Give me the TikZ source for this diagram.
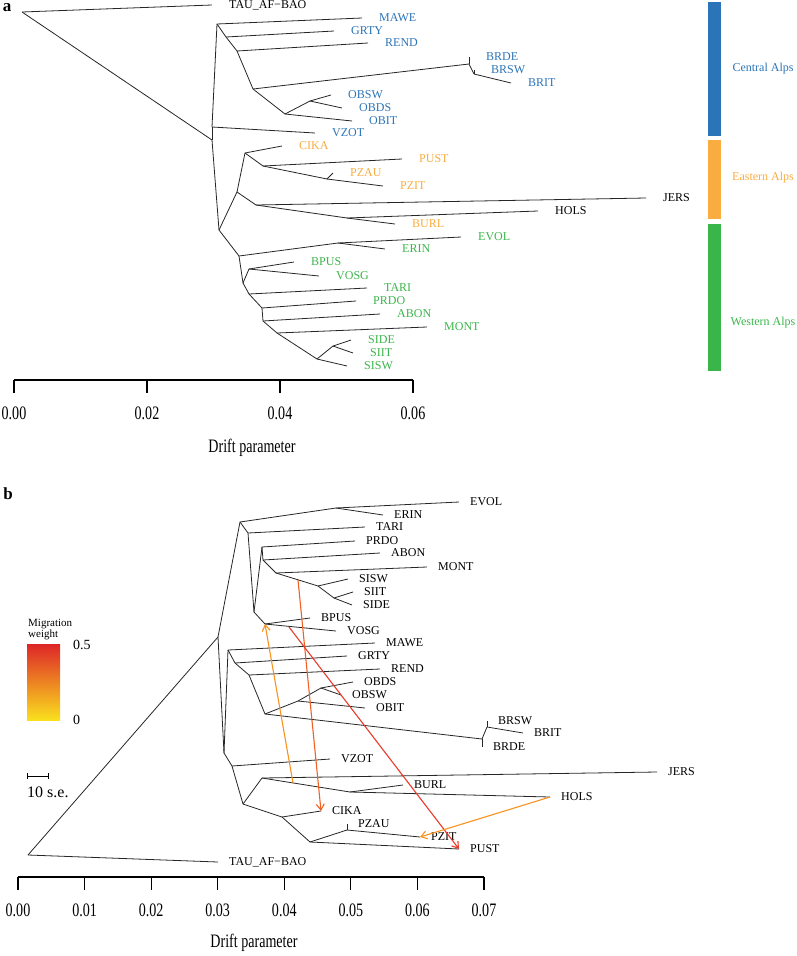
\documentclass[tikz,border=0pt]{standalone}
\usepackage{fontspec}
\setmainfont{Liberation Serif}
\usepackage{graphicx}
\usetikzlibrary{arrows.meta, positioning}

\definecolor{alpsblue}{RGB}{44,116,184}
\definecolor{alpsorange}{RGB}{249,172,64}
\definecolor{alpsgreen}{RGB}{58,181,74}
\definecolor{migorange}{RGB}{247,146,30}
\definecolor{migred}{RGB}{240,96,34}
\definecolor{migdeep}{RGB}{232,58,40}
\definecolor{legtop}{RGB}{222,38,40}
\definecolor{legmid}{RGB}{240,120,38}
\definecolor{legbot}{RGB}{250,224,30}
\newcommand{\narrowtxt}[1]{\scalebox{0.74}[1]{#1}}

\begin{document}
\begin{tikzpicture}[
    x=1pt,
    y=1pt,
    branch/.style={draw, line width=0.8pt, black!85},
    every edge/.style={branch},
    tip/.style={font=\fontsize{12}{12}\selectfont, inner sep=0pt},
    cen/.style={tip, text=alpsblue},
    eas/.style={tip, text=alpsorange},
    wes/.style={tip, text=alpsgreen},
    migr/.style={line width=1.1pt, -{Straight Barb[length=6pt, width=8pt]}},
    axisline/.style={line width=1.1pt},
    ticklab/.style={font=\fontsize{19}{19}\selectfont, inner sep=0pt},
    grouplab/.style={font=\fontsize{12}{12}\selectfont, inner sep=0pt},
    panel/.style={font=\fontsize{17}{17}\selectfont\bfseries, inner sep=0pt},
]
\useasboundingbox (0,0) rectangle (797,-956);

% ---------- panel a ----------
\node[panel] (pa) at (7,-8) {a};

\coordinate (a-root) at (22,-12);
\coordinate (a-tau)  at (212,-5);
\coordinate (a-n0)   at (212,-140);
\coordinate (a-nv)   at (212,-127);
\coordinate (a-c0)   at (217,-24);
\coordinate (a-s0)   at (219,-230);
\coordinate (a-mawe) at (362,-18);
\coordinate (a-c1)   at (226,-37);
\coordinate (a-grty) at (334,-31);
\coordinate (a-c2)   at (237,-51);
\coordinate (a-rend) at (368,-43);
\coordinate (a-c3)   at (253,-89);
\coordinate (a-brn)  at (469,-64);
\coordinate (a-brde) at (469,-57);
\coordinate (a-brs)  at (474,-74);
\coordinate (a-brsw) at (474,-70);
\coordinate (a-brit) at (511,-83);
\coordinate (a-c4)   at (285,-114);
\coordinate (a-obs)  at (310,-101);
\coordinate (a-obsw) at (331,-95);
\coordinate (a-obds) at (342,-108);
\coordinate (a-obit) at (352,-121);
\coordinate (a-vzot) at (315,-133);
\coordinate (a-e1)   at (237,-192);
\coordinate (a-e2)   at (245,-153);
\coordinate (a-cika) at (282,-146);
\coordinate (a-e3)   at (263,-166);
\coordinate (a-pust) at (402,-159);
\coordinate (a-pzn)  at (327,-179);
\coordinate (a-pzau) at (333,-173);
\coordinate (a-pzit) at (383,-186);
\coordinate (a-e4)   at (256,-205);
\coordinate (a-jers) at (646,-198);
\coordinate (a-e5)   at (347,-218);
\coordinate (a-burl) at (395,-224);
\coordinate (a-hols) at (538,-211);
\coordinate (a-w1)   at (239,-256);
\coordinate (a-w2)   at (338,-243);
\coordinate (a-evol) at (461,-237);
\coordinate (a-erin) at (385,-249);
\coordinate (a-w3)   at (243,-283);
\coordinate (a-w4)   at (249,-269);
\coordinate (a-bpus) at (294,-262);
\coordinate (a-vosg) at (319,-276);
\coordinate (a-w5)   at (249,-294);
\coordinate (a-tari) at (367,-288);
\coordinate (a-w6)   at (262,-308);
\coordinate (a-prdo) at (356,-301);
\coordinate (a-w7)   at (263,-321);
\coordinate (a-abon) at (380,-314);
\coordinate (a-w8)   at (277,-333);
\coordinate (a-mont) at (427,-327);
\coordinate (a-w9)   at (317,-359);
\coordinate (a-sn)   at (333,-346);
\coordinate (a-side) at (351,-340);
\coordinate (a-siit) at (353,-353);
\coordinate (a-sisw) at (347,-366);

\path
    (a-root) edge (a-tau)
    (a-root) edge (a-n0)
    (a-n0)   edge (a-nv)
    (a-nv)   edge (a-c0)
    (a-n0)   edge (a-s0)
    (a-nv)   edge (a-vzot)
    (a-c0)   edge (a-mawe)
    (a-c0)   edge (a-c1)
    (a-c1)   edge (a-grty)
    (a-c1)   edge (a-c2)
    (a-c2)   edge (a-rend)
    (a-c2)   edge (a-c3)
    (a-c3)   edge (a-brn)
    (a-brn)  edge (a-brde)
    (a-brn)  edge (a-brs)
    (a-brs)  edge (a-brsw)
    (a-brs)  edge (a-brit)
    (a-c3)   edge (a-c4)
    (a-c4)   edge (a-obs)
    (a-obs)  edge (a-obsw)
    (a-obs)  edge (a-obds)
    (a-c4)   edge (a-obit)
    (a-s0)   edge (a-e1)
    (a-e1)   edge (a-e2)
    (a-e2)   edge (a-cika)
    (a-e2)   edge (a-e3)
    (a-e3)   edge (a-pust)
    (a-e3)   edge (a-pzn)
    (a-pzn)  edge (a-pzau)
    (a-pzn)  edge (a-pzit)
    (a-e1)   edge (a-e4)
    (a-e4)   edge (a-jers)
    (a-e4)   edge (a-e5)
    (a-e5)   edge (a-burl)
    (a-e5)   edge (a-hols)
    (a-s0)   edge (a-w1)
    (a-w1)   edge (a-w2)
    (a-w2)   edge (a-evol)
    (a-w2)   edge (a-erin)
    (a-w1)   edge (a-w3)
    (a-w3)   edge (a-w4)
    (a-w4)   edge (a-bpus)
    (a-w4)   edge (a-vosg)
    (a-w3)   edge (a-w5)
    (a-w5)   edge (a-tari)
    (a-w5)   edge (a-w6)
    (a-w6)   edge (a-prdo)
    (a-w6)   edge (a-w7)
    (a-w7)   edge (a-abon)
    (a-w7)   edge (a-w8)
    (a-w8)   edge (a-mont)
    (a-w8)   edge (a-w9)
    (a-w9)   edge (a-sn)
    (a-sn)   edge (a-side)
    (a-sn)   edge (a-siit)
    (a-w9)   edge (a-sisw)
;

\begin{scope}[node distance=17pt]
    \node[tip, right=of a-tau]  (la-tau)  {TAU\_AF−BAO};
    \node[cen, right=of a-mawe] (la-mawe) {MAWE};
    \node[cen, right=of a-grty] (la-grty) {GRTY};
    \node[cen, right=of a-rend] (la-rend) {REND};
    \node[cen, right=of a-brde] (la-brde) {BRDE};
    \node[cen, right=of a-brsw] (la-brsw) {BRSW};
    \node[cen, right=of a-brit] (la-brit) {BRIT};
    \node[cen, right=of a-obsw] (la-obsw) {OBSW};
    \node[cen, right=of a-obds] (la-obds) {OBDS};
    \node[cen, right=of a-obit] (la-obit) {OBIT};
    \node[cen, right=of a-vzot] (la-vzot) {VZOT};
    \node[eas, right=of a-cika] (la-cika) {CIKA};
    \node[eas, right=of a-pust] (la-pust) {PUST};
    \node[eas, right=of a-pzau] (la-pzau) {PZAU};
    \node[eas, right=of a-pzit] (la-pzit) {PZIT};
    \node[tip, right=of a-jers] (la-jers) {JERS};
    \node[tip, right=of a-hols] (la-hols) {HOLS};
    \node[eas, right=of a-burl] (la-burl) {BURL};
    \node[wes, right=of a-evol] (la-evol) {EVOL};
    \node[wes, right=of a-erin] (la-erin) {ERIN};
    \node[wes, right=of a-bpus] (la-bpus) {BPUS};
    \node[wes, right=of a-vosg] (la-vosg) {VOSG};
    \node[wes, right=of a-tari] (la-tari) {TARI};
    \node[wes, right=of a-prdo] (la-prdo) {PRDO};
    \node[wes, right=of a-abon] (la-abon) {ABON};
    \node[wes, right=of a-mont] (la-mont) {MONT};
    \node[wes, right=of a-side] (la-side) {SIDE};
    \node[wes, right=of a-siit] (la-siit) {SIIT};
    \node[wes, right=of a-sisw] (la-sisw) {SISW};
\end{scope}

% group bars
\fill[alpsblue]   (708,-2)   rectangle (721,-136);
\fill[alpsorange] (708,-140) rectangle (721,-219);
\fill[alpsgreen]  (708,-224) rectangle (721,-371);
\node[grouplab, text=alpsblue]   (g-central) at (763,-69)  {Central Alps};
\node[grouplab, text=alpsorange] (g-eastern) at (763,-178) {Eastern Alps};
\node[grouplab, text=alpsgreen]  (g-western) at (763,-323) {Western Alps};

% axis a
\draw[axisline] (14,-380) -- (413,-380);
\foreach \x/\v in {14/0.00, 147/0.02, 280/0.04, 413/0.06} {
    \draw[axisline] (\x,-380) -- (\x,-393);
    \node[ticklab] (ta-\x) at (\x,-413) {\narrowtxt{\v}};
}
\node[ticklab] (xa-title) at (252,-448) {\narrowtxt{Drift parameter}};

% ---------- panel b ----------
\node[panel] (pb) at (8,-494) {b};

\coordinate (b-root) at (28,-855);
\coordinate (b-tau)  at (218,-862);
\coordinate (b-n0)   at (218,-637);
\coordinate (b-wt)   at (240,-522);
\coordinate (b-w2)   at (336,-508);
\coordinate (b-evol) at (459,-502);
\coordinate (b-erin) at (383,-515);
\coordinate (b-w1)   at (248,-533);
\coordinate (b-tari) at (365,-527);
\coordinate (b-w3)   at (254,-612);
\coordinate (b-w4)   at (265,-624);
\coordinate (b-bpus) at (310,-618);
\coordinate (b-vosg) at (336,-631);
\coordinate (b-w5)   at (262,-547);
\coordinate (b-prdo) at (355,-541);
\coordinate (b-w6)   at (263,-560);
\coordinate (b-abon) at (380,-553);
\coordinate (b-w7)   at (276,-573);
\coordinate (b-mont) at (427,-567);
\coordinate (b-w8)   at (318,-586);
\coordinate (b-sisw) at (348,-579);
\coordinate (b-w9)   at (334,-598);
\coordinate (b-siit) at (353,-592);
\coordinate (b-side) at (352,-605);
\coordinate (b-s1)   at (224,-753);
\coordinate (b-c0)   at (228,-650);
\coordinate (b-s2)   at (232,-766);
\coordinate (b-vzot) at (330,-759);
\coordinate (b-s3)   at (243,-804);
\coordinate (b-mawe) at (375,-643);
\coordinate (b-c1)   at (235,-663);
\coordinate (b-grty) at (347,-656);
\coordinate (b-c2)   at (249,-675);
\coordinate (b-rend) at (380,-669);
\coordinate (b-c3)   at (265,-714);
\coordinate (b-oba)  at (298,-701);
\coordinate (b-obb)  at (321,-688);
\coordinate (b-obds) at (353,-682);
\coordinate (b-obsw) at (341,-695);
\coordinate (b-obit) at (365,-708);
\coordinate (b-brn)  at (482,-739);
\coordinate (b-brde) at (482,-747);
\coordinate (b-brs)  at (487,-727);
\coordinate (b-brsw) at (487,-721);
\coordinate (b-brit) at (523,-733);
\coordinate (b-e1)   at (262,-778);
\coordinate (b-jers) at (657,-772);
\coordinate (b-e5)   at (350,-792);
\coordinate (b-burl) at (403,-785);
\coordinate (b-hols) at (550,-797);
\coordinate (b-e3)   at (282,-817);
\coordinate (b-cika) at (321,-811);
\coordinate (b-e4)   at (310,-842);
\coordinate (b-pzn)  at (347,-830);
\coordinate (b-pzau) at (347,-824);
\coordinate (b-pzit) at (420,-837);
\coordinate (b-pust) at (459,-849);

\path
    (b-root) edge (b-tau)
    (b-root) edge (b-n0)
    (b-n0)   edge (b-wt)
    (b-wt)   edge (b-w2)
    (b-w2)   edge (b-evol)
    (b-w2)   edge (b-erin)
    (b-wt)   edge (b-w1)
    (b-w1)   edge (b-tari)
    (b-w1)   edge (b-w3)
    (b-w3)   edge (b-w4)
    (b-w4)   edge (b-bpus)
    (b-w4)   edge (b-vosg)
    (b-w3)   edge (b-w5)
    (b-w5)   edge (b-prdo)
    (b-w5)   edge (b-w6)
    (b-w6)   edge (b-abon)
    (b-w6)   edge (b-w7)
    (b-w7)   edge (b-mont)
    (b-w7)   edge (b-w8)
    (b-w8)   edge (b-sisw)
    (b-w8)   edge (b-w9)
    (b-w9)   edge (b-siit)
    (b-w9)   edge (b-side)
    (b-n0)   edge (b-s1)
    (b-s1)   edge (b-c0)
    (b-s1)   edge (b-s2)
    (b-s2)   edge (b-vzot)
    (b-s2)   edge (b-s3)
    (b-c0)   edge (b-mawe)
    (b-c0)   edge (b-c1)
    (b-c1)   edge (b-grty)
    (b-c1)   edge (b-c2)
    (b-c2)   edge (b-rend)
    (b-c2)   edge (b-c3)
    (b-c3)   edge (b-oba)
    (b-oba)  edge (b-obb)
    (b-obb)  edge (b-obds)
    (b-obb)  edge (b-obsw)
    (b-oba)  edge (b-obit)
    (b-c3)   edge (b-brn)
    (b-brn)  edge (b-brde)
    (b-brn)  edge (b-brs)
    (b-brs)  edge (b-brsw)
    (b-brs)  edge (b-brit)
    (b-s3)   edge (b-e1)
    (b-e1)   edge (b-jers)
    (b-e1)   edge (b-e5)
    (b-e5)   edge (b-burl)
    (b-e5)   edge (b-hols)
    (b-s3)   edge (b-e3)
    (b-e3)   edge (b-cika)
    (b-e3)   edge (b-e4)
    (b-e4)   edge (b-pzn)
    (b-pzn)  edge (b-pzau)
    (b-pzn)  edge (b-pzit)
    (b-e4)   edge (b-pust)
;

\begin{scope}[node distance=11pt]
    \node[tip, right=of b-tau]  (lb-tau)  {TAU\_AF−BAO};
    \node[tip, right=of b-evol] (lb-evol) {EVOL};
    \node[tip, right=of b-erin] (lb-erin) {ERIN};
    \node[tip, right=of b-tari] (lb-tari) {TARI};
    \node[tip, right=of b-prdo] (lb-prdo) {PRDO};
    \node[tip, right=of b-abon] (lb-abon) {ABON};
    \node[tip, right=of b-mont] (lb-mont) {MONT};
    \node[tip, right=of b-sisw] (lb-sisw) {SISW};
    \node[tip, right=of b-siit] (lb-siit) {SIIT};
    \node[tip, right=of b-side] (lb-side) {SIDE};
    \node[tip, right=of b-bpus] (lb-bpus) {BPUS};
    \node[tip, right=of b-vosg] (lb-vosg) {VOSG};
    \node[tip, right=of b-mawe] (lb-mawe) {MAWE};
    \node[tip, right=of b-grty] (lb-grty) {GRTY};
    \node[tip, right=of b-rend] (lb-rend) {REND};
    \node[tip, right=of b-obds] (lb-obds) {OBDS};
    \node[tip, right=of b-obsw] (lb-obsw) {OBSW};
    \node[tip, right=of b-obit] (lb-obit) {OBIT};
    \node[tip, right=of b-brsw] (lb-brsw) {BRSW};
    \node[tip, right=of b-brit] (lb-brit) {BRIT};
    \node[tip, right=of b-brde] (lb-brde) {BRDE};
    \node[tip, right=of b-vzot] (lb-vzot) {VZOT};
    \node[tip, right=of b-jers] (lb-jers) {JERS};
    \node[tip, right=of b-burl] (lb-burl) {BURL};
    \node[tip, right=of b-hols] (lb-hols) {HOLS};
    \node[tip, right=of b-cika] (lb-cika) {CIKA};
    \node[tip, right=of b-pzau] (lb-pzau) {PZAU};
    \node[tip, right=of b-pzit] (lb-pzit) {PZIT};
    \node[tip, right=of b-pust] (lb-pust) {PUST};
\end{scope}

% migration edges
\coordinate (b-m1) at (293,-783);
\coordinate (b-m2) at (298,-580);
\coordinate (b-m3) at (289,-627);
\draw[migr, migorange] (b-m1)   -- (b-w4);
\draw[migr, migred]    (b-m2)   -- (b-cika);
\draw[migr, migdeep]   (b-m3)   -- (b-pust);
\draw[migr, migorange] (b-hols) -- (b-pzit);

% legend
\node[anchor=base west, font=\fontsize{11}{11}\selectfont, inner sep=0pt] (leg-t1) at (28,-626) {Migration};
\node[anchor=base west, font=\fontsize{11}{11}\selectfont, inner sep=0pt] (leg-t2) at (28,-637.5) {weight};
\shade[top color=legtop, middle color=legmid, bottom color=legbot] (27,-644) rectangle (60,-720);
\node[anchor=west, font=\fontsize{14}{14}\selectfont, inner sep=0pt] (leg-hi) at (73,-645) {0.5};
\node[anchor=west, font=\fontsize{14}{14}\selectfont, inner sep=0pt] (leg-lo) at (73,-720) {0};

% scale bar
\coordinate (sb-l) at (27,-776);
\coordinate (sb-r) at (48,-776);
\draw[line width=1pt] (sb-l) -- (sb-r);
\draw[line width=1pt] ([yshift=3pt]sb-l) -- ([yshift=-3pt]sb-l);
\draw[line width=1pt] ([yshift=3pt]sb-r) -- ([yshift=-3pt]sb-r);
\node[anchor=west, font=\fontsize{16}{16}\selectfont, inner sep=0pt] (sb-lab) at (27,-792) {10 s.e.};

% axis b
\draw[axisline] (18,-877) -- (484,-877);
\foreach \i in {0,...,7} {
    \pgfmathsetmacro{\x}{18+66.571*\i}
    \draw[axisline] (\x,-877) -- (\x,-890);
    \node[ticklab] (tb-\i) at (\x,-910) {\narrowtxt{0.0\i}};
}
\node[ticklab] (xb-title) at (254,-943) {\narrowtxt{Drift parameter}};

\end{tikzpicture}
\end{document}
